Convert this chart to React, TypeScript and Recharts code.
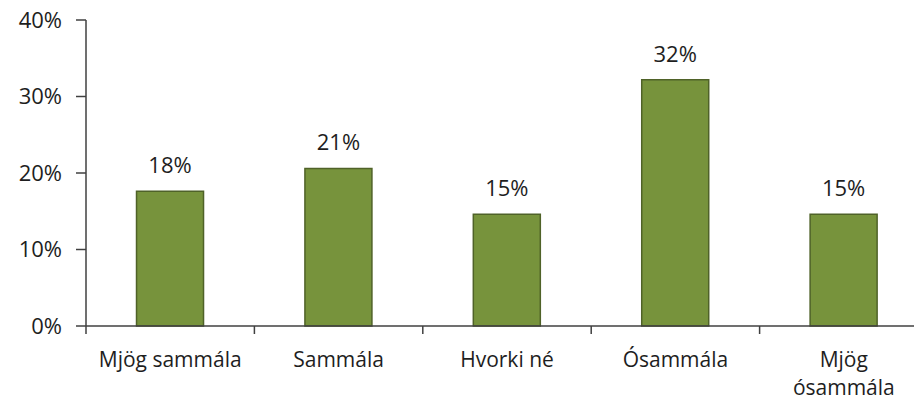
import { BarChart, Bar, XAxis, YAxis, LabelList } from 'recharts';

const categories = ['Mjög sammála', 'Sammála', 'Hvorki né', 'Ósammála', 'Mjög\nósammála'];
const shares = [17.6, 20.6, 14.6, 32.2, 14.6];
const yTicks = [0, 10, 20, 30, 40];

const data = categories.map((name, i) => ({ name, value: shares[i] }));

const FONT = '"Open Sans", sans-serif';
const TEXT = '#1e1e1e';
const AXIS = '#404040';
const X_TICK_SIZE = 8;
const X_TICK_MARGIN = 18;

// category labels, plus Excel-style tick marks between categories
function CategoryTick(props: any) {
  const { x, y, payload, width, visibleTicksCount } = props;
  const band = width / visibleTicksCount;
  const axisY = y - X_TICK_SIZE - X_TICK_MARGIN;
  const lines = String(payload.value).split('\n');
  const left = x - band / 2;
  return (
    <g>
      <line x1={left} y1={axisY} x2={left} y2={axisY + X_TICK_SIZE} stroke={AXIS} strokeWidth={1.5} />
      <text x={x} y={y} textAnchor="middle" fontFamily={FONT} fontSize={21} fill={TEXT}>
        {lines.map((l, i) => (
          <tspan key={i} x={x} dy={i === 0 ? '0.71em' : 28}>
            {l}
          </tspan>
        ))}
      </text>
    </g>
  );
}

export default function App() {
  return (
    <div style={{ position: 'absolute', left: 0, top: 0, width: 914, height: 402, overflow: 'hidden', background: '#fff' }}>
      <BarChart
        width={940}
        height={402}
        data={data}
        margin={{ top: 20, right: 12, bottom: 16, left: 0 }}
        barCategoryGap="30%"
      >
        <XAxis
          dataKey="name"
          height={60}
          interval={0}
          tickLine={false}
          tickSize={X_TICK_SIZE}
          tickMargin={X_TICK_MARGIN}
          axisLine={{ stroke: AXIS, strokeWidth: 1.5 }}
          tick={<CategoryTick />}
        />
        <YAxis
          width={86}
          domain={[0, 40]}
          ticks={yTicks}
          interval={0}
          tickSize={10}
          tickMargin={14}
          tickFormatter={(v: number) => `${v}%`}
          axisLine={{ stroke: AXIS, strokeWidth: 1.5 }}
          tickLine={{ stroke: AXIS, strokeWidth: 1.5 }}
          tick={{ fontFamily: FONT, fontSize: 22, fill: TEXT }}
        />
        <Bar dataKey="value" fill="#77933C" stroke="#4F6228" strokeWidth={1.5} isAnimationActive={false}>
          <LabelList
            dataKey="value"
            position="top"
            offset={18}
            formatter={(v: any) => `${Math.round(Number(v))}%`}
            style={{ fontFamily: FONT, fontSize: 22, fill: TEXT }}
          />
        </Bar>
      </BarChart>
    </div>
  );
}
